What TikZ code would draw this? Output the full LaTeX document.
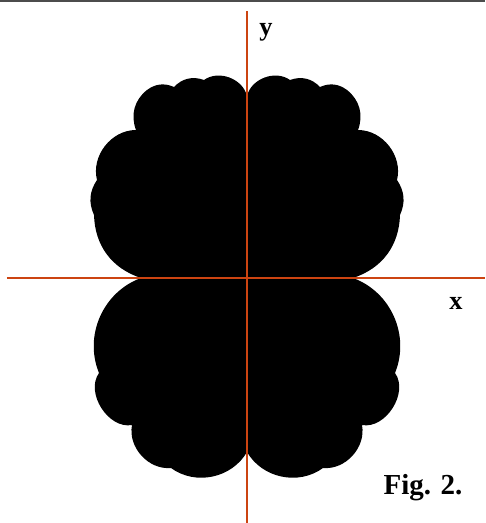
\documentclass[tikz,border=0pt]{standalone}
\usepackage{fontspec}
\setmainfont{Liberation Serif}
\definecolor{axisred}{RGB}{204,68,17}

\begin{document}
\begin{tikzpicture}[x=0.02cm, y=0.02cm, axis/.style={line width=0.03cm, draw=axisred}, lobe/.style={fill=black}, lab/.style={font=\bfseries\fontsize{15}{18}\selectfont}]
\useasboundingbox (-247,-245) rectangle (238,278);
\draw[black!70, line width=0.04cm] (-247,277) -- (238,277);
% the four lobes, right half then mirrored
\foreach \s/\b in {1/left,-1/right}
  \fill[lobe] (0,182) to[bend \b=56] (\s*43,198) to[bend \b=33] (\s*73,191) to[bend \b=30] (\s*100,188) to[bend \b=36] (\s*111,148) to[bend \b=52] (\s*150,98) to[bend \b=29] (\s*153,63) to[bend \b=35] (\s*106,0) to[bend \b=46] (\s*148,-95) to[bend \b=68] (\s*115,-147) to[bend \b=53] (\s*76,-190) to[bend \b=48] (0,-174) -- cycle;
\coordinate (xl) at (-240,0); \coordinate (xr) at (238,0);
\coordinate (yb) at (0,-245); \coordinate (yt) at (0,267);
\draw[axis] (xl) -- (xr); \draw[axis] (yb) -- (yt);
\node[lab] (ylab) at (19,246) {y};
\node[lab] (xlab) at (209,-25) {x};
\node[lab, font=\bfseries\fontsize{16.5}{20}\selectfont] (fig) at (176,-210) {Fig. 2.};
\end{tikzpicture}
\end{document}
